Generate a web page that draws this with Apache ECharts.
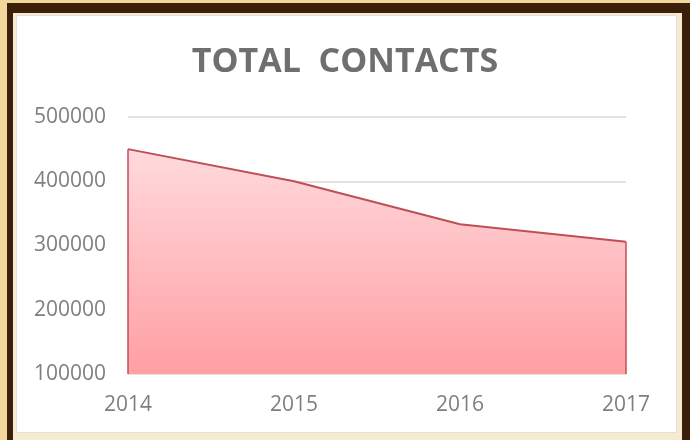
<!DOCTYPE html>
<html>
<head>
<meta charset="utf-8">
<script src="https://cdn.jsdelivr.net/npm/echarts@6/dist/echarts.min.js"></script>
<style>
  body { margin: 0; background: #f1d79c; }
  .box { position: absolute; }
  #brown { left: 7px; top: 3px; width: 690px; height: 440px; background: #3b1f0a; }
  #cream { left: 13px; top: 13px; width: 669px; height: 430px; background: #f6ead0; }
  #panel { left: 16px; top: 15px; width: 661px; height: 418px; background: #fff; border: 1px solid #e4e0d8; box-sizing: border-box; }
  #chart { left: 0; top: 0; width: 690px; height: 440px; }
</style>
</head>
<body>
<div class="box" id="brown"></div>
<div class="box" id="cream"></div>
<div class="box" id="panel"></div>
<div class="box" id="chart"></div>
<script>
  // 数据
  let years = ['2014', '2015', '2016', '2017']
  let contacts = [450000, 400000, 333000, 306000]
  let yMin = 100000
  let yMax = 500000
  let yStep = 100000

  let chart = echarts.init(document.getElementById('chart'), null, {renderer: 'canvas'})
  let last = years.length - 1
  let options = {
    title: {
      text: 'TOTAL  CONTACTS',
      left: 'center',
      top: 40,
      textStyle: {color: '#6f6f6f', fontSize: 34, fontWeight: 'bold', fontFamily: 'Open Sans'}
    },
    grid: {left: 128, right: 64, top: 117, bottom: 66},
    xAxis: {
      type: 'category',
      boundaryGap: false,
      data: years,
      axisLine: {show: false},
      axisTick: {show: false},
      axisLabel: {color: '#7f7f7f', fontSize: 21, fontFamily: 'Open Sans', margin: 21}
    },
    yAxis: {
      type: 'value',
      min: yMin,
      max: yMax,
      interval: yStep,
      axisLine: {show: false},
      axisTick: {show: false},
      axisLabel: {
        color: '#7f7f7f',
        fontSize: 21,
        fontFamily: 'Open Sans',
        margin: 22,
        formatter: function (v) { return String(v) } // 不要千分位
      },
      splitLine: {lineStyle: {color: '#d9d9d9', width: 1.5}}
    },
    series: [
      {
        type: 'line',
        data: contacts,
        symbol: 'none',
        lineStyle: {color: '#bf4f55', width: 2},
        areaStyle: {
          opacity: 1,
          color: new echarts.graphic.LinearGradient(0, 0, 0, 1, [
            {offset: 0, color: '#ffdadd'},
            {offset: 1, color: '#ff9fa3'}
          ])
        },
        markLine: {
          silent: true,
          symbol: 'none',
          label: {show: false},
          lineStyle: {color: '#bf4f55', width: 1.5, type: 'solid'},
          data: [
            [{coord: [0, yMin]}, {coord: [0, contacts[0]]}],
            [{coord: [last, yMin]}, {coord: [last, contacts[last]]}]
          ]
        }
      }
    ]
  }
  chart.setOption(options)
</script>
</body>
</html>
